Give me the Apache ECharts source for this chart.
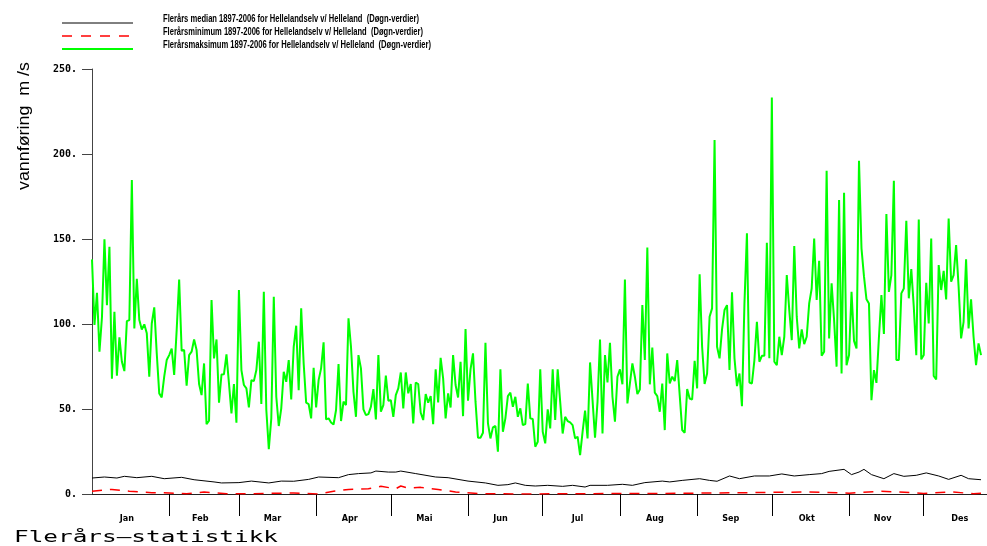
<!DOCTYPE html>
<html>
<head>
<meta charset="utf-8">
<script src="https://cdn.jsdelivr.net/npm/echarts@6/dist/echarts.min.js"></script>
<style>html,body{margin:0;padding:0;background:#fff;}#chart{width:987px;height:546px;}</style>
</head>
<body>
<div id="chart"></div>
<script>
// ---- data (day of year -> m3/s) ----
const monthNames = ['Jan','Feb','Mar','Apr','Mai','Jun','Jul','Aug','Sep','Okt','Nov','Des'];
const monthStart = [32,60,91,121,152,182,213,244,274,305,335];
const monthMid = [15,44.5,73.5,104.5,134.5,165,196,227,257.5,288,318.5,349.5];
const yTicks = [0,50,100,150,200,250];

const legendNames = [
  'Flerårs median 1897-2006 for Hellelandselv v/ Helleland  (Døgn-verdier)',
  'Flerårsminimum 1897-2006 for Hellelandselv v/ Helleland  (Døgn-verdier)',
  'Flerårsmaksimum 1897-2006 for Hellelandselv v/ Helleland  (Døgn-verdier)'
];

// daily maximum, day 1 .. 358
const maksimum = [
138,99.4,118.4,83.7,104,149.8,111,145.4,67.8,107.2,69.6,92.1,77.8,72.3,101.7,102.3,184.7,97.4,126.6,102.3,96.8,99.8,94.5,69,100.3,109.8,82.7,59.2,56.8,69,78.8,81.7,85.6,70,96.4,126.2,84.3,84.7,63.7,81.7,83.7,90.9,84.7,64.7,58.2,76.8,41.1,43.1,114.1,79.8,90.9,53.7,70.3,70.5,82.1,65.1,47.4,64.7,41.9,120,
72.9,64.1,62.1,50.9,67,66.4,72.9,89.6,52.9,119,49.4,26.4,44.5,116,57.2,40,50.4,71.9,66,78.8,55.6,86.6,99,61.1,109.2,76.8,53.7,52.9,44.5,74.3,50.9,67,73.9,89.2,43.9,44.5,42.1,40.9,49.4,76.4,42.9,54.3,52.3,103.3,86.6,60.1,45.4,81.7,73.9,49.8,46.4,47,51.3,61.7,43.9,81.7,48.4,52.3,69.6,54.9,
55.2,45.4,58.2,62.1,71.5,50.4,71.5,59.2,64.7,41.5,65.6,64.7,47.8,43.5,58.8,53.7,57.6,41.1,73.3,53.9,80.1,68,44.5,59.2,50.9,81.7,64.1,56.8,77.8,45.8,97,54.9,73.3,82.7,54.3,33.1,33.1,36,89,41.5,32.7,39.2,40,24.9,73.3,36.6,44.5,57.6,59.6,51.3,57.2,45.4,50.4,40.5,41.1,65,44.5,44.1,27.8,30.7,73.3,
36.6,29.8,49.8,38.6,73.3,43.5,73.3,54.3,35.6,45.4,42.9,42.1,40.5,32.7,33.7,22.9,36.6,49,32.7,77.4,55.2,33.1,54.3,90.9,35.6,81.7,65.6,89,57.2,42.5,69,73.3,64.5,126.2,53.3,65,76.8,69,58.8,61.5,111.1,78.8,145,64.5,86.2,59.6,57.6,48.4,65,37.6,82.7,65,69,66.4,78.8,58.2,37.6,36,61.7,56.2,
55.6,78.4,62.1,129.2,86.6,64.7,70.9,104.3,109.2,208.2,86.6,79.8,96.8,108.2,111.1,72.9,118.6,79.8,63.5,70.9,51.7,112,153.3,65.6,65,78.8,101.3,77.8,81.3,81.3,147.8,79.8,233.3,77.8,75.8,92.5,81.7,92.5,128.8,108.2,90.5,145.8,104.3,85.6,96.8,88.2,92.5,112.1,120.9,150.3,114.1,137.2,81.3,83.7,190.1,91.5,123.9,102.3,74.9,
172.9,70.9,177.2,75.8,81.7,118.9,90.1,85.6,196,144.5,128,114.5,112.1,55.2,72.9,65.4,92,117,94.1,164.7,118.9,128.8,184.3,78.8,78.8,118,120.9,160.7,115.1,132.3,110.1,81.7,161.5,79.2,81.7,124.3,100.3,150.3,69.4,67.4,134.7,120,131.3,114.5,162.1,124.9,128.8,146.4,121.9,91.5,101.3,138,97.4,114.5,92.5,75.8,88.6,81.7
];

const medianDay = [1,6,11,14,19,25,30,37,42,50,53,60,65,72,77,82,88,92,100,104,108,113,115,120,123,125,131,139,144,152,159,164,168,171,175,179,184,190,194,199,201,208,214,218,223,230,233,238,245,249,252,257,261,267,273,278,283,289,294,297,303,306,309,311,314,319,323,327,332,336,341,345,350,353,358];
const medianVal = [9.4,10,9.4,10.4,9.6,10.4,9,9.8,8.4,7.1,6.5,6.7,7.6,6.5,7.6,7.5,8.6,10,9.6,11.4,12,12.4,13.5,12.9,12.9,13.5,12,10,9.6,7.6,6.5,5.1,5.5,6.5,5.1,4.7,5.1,4.5,5.1,4.1,5.1,5.1,5.7,5.1,6.7,7.6,7.1,8,9,8,7.5,10.6,9,10.6,10.6,11.8,10.6,11.4,12,13.3,14.5,11.4,12.9,14.5,11.4,9,12,10.4,11,12.4,10.6,8.6,11,9,8.4];

const minimumDay = [1,9,16,25,32,39,46,55,66,82,92,98,104,112,117,123,125,128,133,140,147,157,174,200,230,265,289,305,318,325,335,346,355,358];
const minimumVal = [1.6,2.7,1.6,0.8,0.6,0.2,1.2,0.2,0.2,0.6,0,1.6,2.7,3.1,4.5,3.1,4.7,3.5,3.9,2.7,1.2,0.2,0,0.2,0.3,0.8,1.2,0.5,1.6,1.2,0.3,1.2,0.2,0.5];

// ---- build ----
const maxData = maksimum.map((v, i) => [i + 1, v]);
const medData = medianDay.map((d, i) => [d, medianVal[i]]);
const minData = minimumDay.map((d, i) => [d, minimumVal[i]]);

const mctx = document.createElement('canvas').getContext('2d');
function textW(text, font) { mctx.font = font; return mctx.measureText(text).width; }

const legFont = 'bold 10px "Liberation Sans", Arial, sans-serif';
const legY = [23, 36, 49];
const legColors = ['#000000', '#ff0000', '#00ff00'];
const legWidths = [1, 1.5, 2];
const legDash = [null, [10, 9], null];
const legendGraphics = [];
legendNames.forEach((name, i) => {
  legendGraphics.push({
    type: 'line', shape: { x1: 62, y1: legY[i], x2: 133, y2: legY[i] },
    style: { stroke: legColors[i], lineWidth: legWidths[i], lineDash: legDash[i] }, silent: true
  });
  const w = textW(name, legFont);
  const target = [256, 260, 268][i];
  legendGraphics.push({
    type: 'text', x: 163, y: legY[i] - 4, scaleX: target / w,
    style: { text: name, x: 0, y: 0, font: legFont, fill: '#000', textVerticalAlign: 'middle', textAlign: 'left' }, silent: true
  });
});

const titleText = 'Flerårs—statistikk';
const titleFont = '15px "DejaVu Sans Mono", monospace';
const yNameText = 'vannføring  m /s';
const yNameFont = '17px "Liberation Sans", Arial, sans-serif';

const chart = echarts.init(document.getElementById('chart'), null, { renderer: 'canvas' });
chart.setOption({
  animation: false,
  backgroundColor: '#ffffff',
  grid: { left: 92, right: 0, top: 69, bottom: 52, containLabel: false },
  xAxis: {
    type: 'value', min: 1, max: 360.4,
    axisLine: { show: true, onZero: false, lineStyle: { color: '#222', width: 1 } },
    axisTick: { show: true, inside: false, length: 22, customValues: monthStart, lineStyle: { color: '#000', width: 1 } },
    axisLabel: {
      show: true, customValues: monthMid, margin: 20,
      formatter: function (v) { const i = monthMid.indexOf(v); return i >= 0 ? monthNames[i] : ''; },
      fontFamily: '"Liberation Sans Narrow", "DejaVu Sans Condensed", "Liberation Sans", sans-serif',
      fontWeight: 'bold', fontSize: 9, color: '#000'
    },
    splitLine: { show: false }
  },
  yAxis: {
    type: 'value', min: 0, max: 250, interval: 50,
    axisLine: { show: true, lineStyle: { color: '#444', width: 1 } },
    axisTick: { show: true, length: 10, lineStyle: { color: '#444' } },
    axisLabel: {
      formatter: v => v + '.', margin: 15,
      fontFamily: '"DejaVu Sans Mono", monospace', fontWeight: 'bold', fontSize: 10, color: '#000'
    },
    splitLine: { show: false }
  },
  series: [
    { name: legendNames[0], type: 'line', data: medData, symbol: 'none', lineStyle: { color: '#000', width: 1 }, z: 3 },
    { name: legendNames[1], type: 'line', data: minData, symbol: 'none', lineStyle: { color: '#ff0000', width: 1.5, type: [10, 8] }, z: 3 },
    { name: legendNames[2], type: 'line', data: maxData, symbol: 'none', lineStyle: { color: '#00ff00', width: 2 }, z: 2 }
  ],
  graphic: legendGraphics.concat([
    {
      type: 'text', x: 14, y: 538, scaleX: 264 / textW(titleText, titleFont),
      style: { text: titleText, x: 0, y: 0, font: titleFont, fill: '#000', textVerticalAlign: 'middle', textAlign: 'left' }, silent: true
    },
    {
      type: 'text', x: 24, y: 126, rotation: Math.PI / 2, scaleX: 128 / textW(yNameText, yNameFont),
      style: { text: yNameText, x: 0, y: 0, font: yNameFont, fill: '#000', textVerticalAlign: 'middle', textAlign: 'center' }, silent: true
    }
  ])
});
</script>
</body>
</html>
